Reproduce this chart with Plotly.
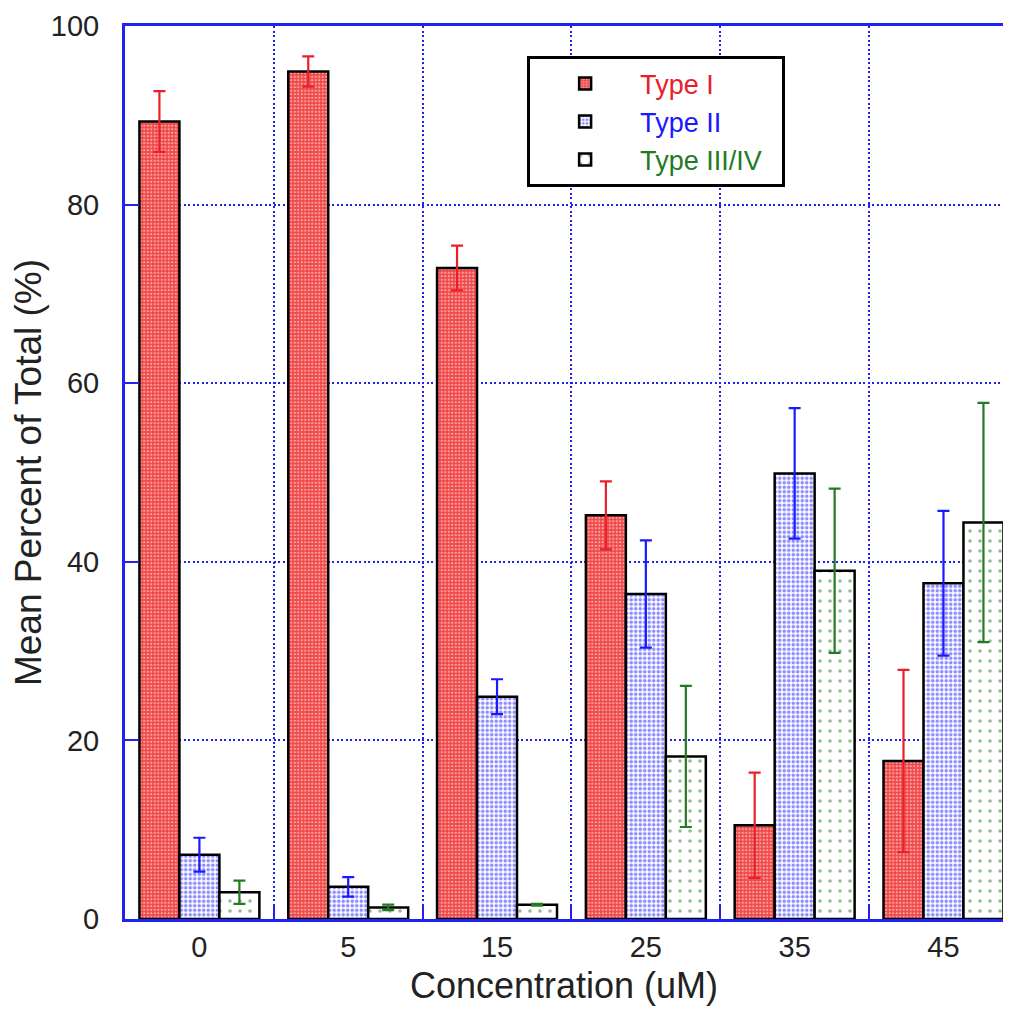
import plotly.graph_objects as go

categories = ["0", "5", "15", "25", "35", "45"]
series_names = ["Type I", "Type II", "Type III/IV"]
type1 = [89.3, 94.9, 72.9, 45.2, 10.5, 17.7]
type1_err = [3.4, 1.7, 2.5, 3.8, 5.9, 10.2]
type2 = [7.2, 3.6, 24.9, 36.4, 49.9, 37.6]
type2_err = [1.9, 1.1, 1.95, 6.0, 7.3, 8.1]
type3 = [3.0, 1.3, 1.6, 18.2, 39.0, 44.4]
type3_err = [1.3, 0.3, 0.1, 7.9, 9.2, 13.4]

RED = "#e8202a"
BLUE = "#1a1aff"
GREEN = "#247a24"
AXIS = "#2222ee"
xpos = list(range(len(categories)))

fig = go.Figure()

def add(vals, errs, name, color, pattern, suffix=""):
    fig.add_trace(go.Bar(
        x=xpos, y=vals, name=f"<span style='color:{color}'>{name}</span>{suffix}",
        marker=dict(color=pattern.get("bgcolor", "white"),
                    line=dict(color="black", width=2.5),
                    pattern=pattern),
        error_y=dict(type="data", array=errs, visible=True, color=color,
                     thickness=2.2, width=6),
    ))

add(type1, type1_err, series_names[0], RED,
    dict(shape=".", bgcolor="#f04848", fgcolor="white", size=3.5, solidity=0.35))
add(type2, type2_err, series_names[1], BLUE,
    dict(shape=".", bgcolor="white", fgcolor=BLUE, size=4.5, solidity=0.5))
add(type3, type3_err, series_names[2], GREEN,
    dict(shape=".", bgcolor="white", fgcolor=GREEN, size=10, solidity=0.1),
    suffix="&nbsp;&nbsp;")

fig.update_layout(
    width=995, height=998,
    margin=dict(l=117, r=0, t=18, b=87),
    paper_bgcolor="white", plot_bgcolor="white",
    barmode="group", bargap=0.194, bargroupgap=0,
    font=dict(family="Liberation Sans, Arial, sans-serif", color="#222222"),
    showlegend=True,
    legend=dict(x=0.458, y=0.966, xanchor="left", yanchor="top",
                bgcolor="white", bordercolor="black", borderwidth=3,
                font=dict(size=27), itemwidth=100),
)

fig.update_xaxes(
    range=[-0.5, 5.40], tickvals=xpos, ticktext=categories,
    ticks="", showgrid=False, zeroline=False, automargin=False,
    showline=True, linecolor=AXIS, linewidth=3, mirror=True,
    tickfont=dict(size=29),
    title=dict(text="Concentration (uM)", font=dict(size=36), standoff=25),
    minor=dict(tickvals=[0.5, 1.5, 2.5, 3.5, 4.5], ticks="inside", ticklen=14,
               tickcolor=AXIS, tickwidth=2, showgrid=True, gridcolor=AXIS,
               gridwidth=2, griddash="2px,2.5px"),
)
fig.update_yaxes(
    range=[0, 100], tickvals=[0, 20, 40, 60, 80, 100],
    ticks="inside", ticklen=14, tickcolor=AXIS, tickwidth=2,
    showgrid=True, gridcolor=AXIS, gridwidth=2, griddash="2px,2.5px",
    zeroline=False, showline=True, linecolor=AXIS, linewidth=3,
    tickfont=dict(size=29), ticklabelstandoff=17,
    title=dict(text="Mean Percent of Total (%)", font=dict(size=37), standoff=4),
)

fig.write_html("out.html")
